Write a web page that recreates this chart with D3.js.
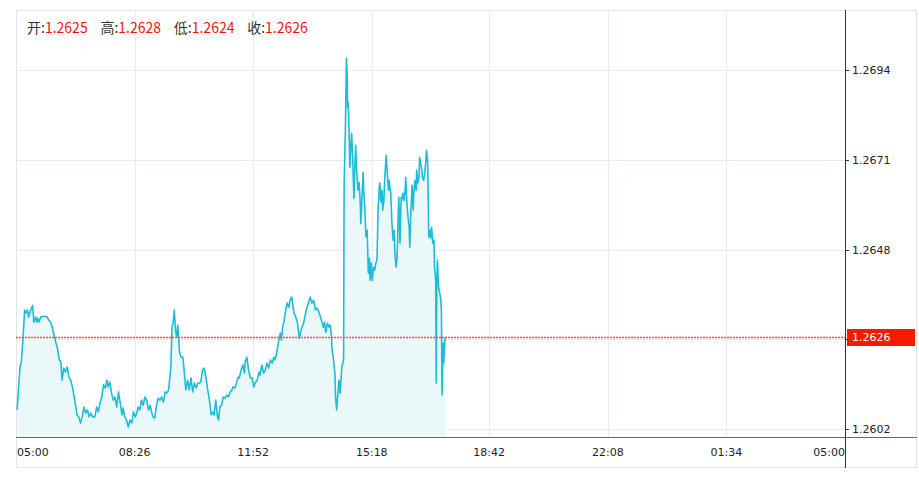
<!DOCTYPE html>
<html><head><meta charset="utf-8">
<script src="https://cdn.jsdelivr.net/npm/d3@7/dist/d3.min.js"></script>
<style>html,body{margin:0;padding:0;background:#fff;overflow:hidden}</style>
</head><body><svg id="c" width="919" height="478"></svg>
<script>
// minutes elapsed since 05:00
const minutesFrom0500 = [2,5,7,9,12,15,17,20,22,24,27,29,31,34,36,38,40,43,49,54,57,60,63,66,69,72,75,78,80,83,86,89,92,95,98,101,104,106,109,112,115,118,121,124,127,130,133,137,140,143,146,149,152,155,158,160,163,166,169,172,175,178,181,184,186,189,192,195,198,201,204,207,210,212,215,218,221,224,227,230,233,236,238,241,244,247,250,253,256,259,262,265,269,271,273,275,277,279,281,284,287,290,292,295,298,301,304,307,310,313,316,318,321,324,327,330,333,336,339,342,344,347,350,352,354,357,360,363,366,369,372,375,377,380,383,386,388,391,394,397,398,401,404,407,410,413,416,419,422,424,427,430,433,436,439,442,445,448,450,453,456,459,461,463,466,468,471,474,476,479,481,483,486,489,492,494,497,500,503,505,508,511,514,517,520,523,526,529,532,534,536,538,541,544,546,548,549,551,554,555,557,559,561,563,566,569,570,572,574,575,576,577,578,580,581,583,585,587,588,590,592,594,596,598,599,601,603,604,606,608,610,612,614,615,617,619,621,623,625,627,629,631,632,634,636,637,639,641,643,645,647,648,651,653,655,657,658,660,662,664,665,667,669,670,672,674,676,677,679,681,683,684,686,688,690,691,693,695,696,698,700,701,703,705,706,708,710,712,713,715,717,719,720,722,724,726,727,729,730,731,732,734,736,738,739,740,742,743,745,746];
const prices = [1.26069,1.26138,1.26179,1.26189,1.26248,1.26325,1.26317,1.26325,1.26307,1.26317,
1.2633,1.26337,1.26294,1.26307,1.26294,1.26304,1.26294,1.26307,1.26309,1.26307,
1.26299,1.26294,1.26281,1.26261,1.26243,1.26227,1.26197,1.26192,1.26145,1.26176,
1.26166,1.26179,1.26153,1.26145,1.26128,1.26102,1.26076,1.26056,1.26051,1.26035,
1.26051,1.26076,1.26061,1.26069,1.26051,1.26061,1.26051,1.26051,1.26076,1.26064,
1.26087,1.26102,1.26133,1.26125,1.26145,1.26128,1.2614,1.26112,1.26094,1.26102,
1.26076,1.26115,1.26087,1.26056,1.26074,1.26051,1.26043,1.26025,1.26043,1.26035,
1.26064,1.26051,1.26061,1.26076,1.26069,1.26094,1.26081,1.26102,1.26094,1.26069,
1.26081,1.26061,1.26051,1.26048,1.26081,1.26099,1.26094,1.26102,1.26089,1.26115,
1.26112,1.2612,1.26179,1.26281,1.26294,1.26325,1.26274,1.26256,1.26286,1.26217,
1.26204,1.26204,1.26171,1.2612,1.26145,1.2612,1.26151,1.26115,1.26138,1.26125,
1.26138,1.26138,1.2614,1.26171,1.26176,1.26151,1.2612,1.26094,1.26056,1.26064,
1.26056,1.26094,1.26051,1.26043,1.26076,1.26081,1.26102,1.26099,1.26107,1.26102,
1.26115,1.2612,1.26128,1.26125,1.26138,1.26153,1.26151,1.26171,1.26184,1.26163,
1.26192,1.26204,1.26171,1.26151,1.26151,1.26128,1.2614,1.26145,1.26166,1.26158,
1.26184,1.26163,1.26171,1.26189,1.26176,1.26197,1.26189,1.26204,1.26197,1.26217,
1.26243,1.26266,1.26248,1.26279,1.26299,1.2632,1.26343,1.26332,1.2635,1.26358,
1.26337,1.26317,1.26307,1.26291,1.26253,1.26266,1.26281,1.26294,1.26317,1.2633,
1.26343,1.26358,1.26343,1.2635,1.26325,1.2633,1.2632,1.26307,1.26291,1.26281,
1.26294,1.26268,1.26291,1.26281,1.26286,1.26256,1.26222,1.26204,1.26163,1.26102,
1.26069,1.26112,1.26145,1.26112,1.26179,1.26197,1.2665,1.26778,1.2697,1.26939,
1.26844,1.26857,1.26819,1.26691,1.26727,1.26778,1.26709,1.26611,1.26665,1.26747,
1.26675,1.26632,1.26652,1.26599,1.26547,1.26614,1.26678,1.26632,1.26581,1.26512,
1.26529,1.26419,1.26458,1.26401,1.26445,1.26401,1.26435,1.26427,1.26445,1.26453,
1.26581,1.2664,1.2665,1.26601,1.26632,1.26581,1.26606,1.26675,1.26721,1.26675,
1.26632,1.26657,1.26624,1.26547,1.26504,1.26529,1.26478,1.26435,1.2646,1.26573,
1.26614,1.26496,1.26614,1.26606,1.26624,1.26606,1.26632,1.26665,1.26599,1.26563,
1.26537,1.26486,1.26581,1.26645,1.26581,1.26624,1.26657,1.26632,1.26683,1.2665,
1.26665,1.26716,1.26701,1.26683,1.26665,1.26657,1.26675,1.26709,1.26734,1.26709,
1.26512,1.26529,1.26509,1.26537,1.26496,1.26504,1.26435,1.26401,1.26138,1.26401,
1.26453,1.26384,1.26368,1.2635,1.26317,1.26107,1.2624,1.26189,1.26248,1.26256];
const xTickMinutes = [0,206,412,618,822,1028,1234,1440];
const xTickLabels = ["05:00","08:26","11:52","15:18","18:42","22:08","01:34","05:00"];
const yTickValues = [1.2694,1.2671,1.2648,1.2625,1.2602];
const ohlcNames = ["开","高","低","收"];
const ohlcValues = ["1.2625","1.2628","1.2624","1.2626"];

const data = d3.zip(minutesFrom0500, prices).map(([m,p]) => ({m, p}));
const last = data[data.length-1];

const L = 16, R = 845, T = 10, B = 437, FR = 917, FB = 468;
const svg = d3.select("#c");

const x = d3.scaleLinear().domain([0, 1440]).range([L, R]);
const y = d3.scaleLinear().domain([1.2602, 1.2694]).range([429, 70]);

// frame
svg.append("rect").attr("x", L+0.5).attr("y", T+0.5).attr("width", FR-L-1).attr("height", FB-T-1)
  .attr("fill","none").attr("stroke","#e4e4e4");

// grid
const grid = svg.append("g").attr("stroke","#e6edf1").attr("stroke-width",1);
grid.selectAll(".hg").data(yTickValues).join("line")
  .attr("x1", L).attr("x2", R)
  .attr("y1", d => Math.round(y(d))+0.5).attr("y2", d => Math.round(y(d))+0.5);
grid.selectAll(".vg").data(xTickMinutes.slice(1,-1)).join("line")
  .attr("y1", T).attr("y2", B)
  .attr("x1", d => Math.round(x(d))+0.5).attr("x2", d => Math.round(x(d))+0.5);

// area + line
svg.append("path").datum(data)
  .attr("fill","#eaf8fa")
  .attr("d", d3.area().x(d => x(d.m)).y0(B).y1(d => y(d.p)));
svg.append("path").datum(data)
  .attr("fill","none").attr("stroke","#1dbcd8").attr("stroke-width",1.6).attr("stroke-linejoin","round")
  .attr("d", d3.line().x(d => x(d.m)).y(d => y(d.p)));

// last price dotted line
const ly = Math.round(y(last.p))+0.5;
svg.append("line").attr("x1", L).attr("x2", R).attr("y1", ly).attr("y2", ly)
  .attr("stroke","#ff4a4a").attr("stroke-width",1.5).attr("stroke-dasharray","2,1");

// axes lines
svg.append("line").attr("x1", L).attr("x2", FR).attr("y1", B+0.5).attr("y2", B+0.5).attr("stroke","#666");
svg.append("line").attr("x1", R+0.5).attr("x2", R+0.5).attr("y1", T).attr("y2", FB).attr("stroke","#333");

// y ticks (label hidden where the last-price tag covers it)
const yax = svg.append("g").attr("font-family","DejaVu Sans, sans-serif").attr("font-size","11px").attr("fill","#222");
yTickValues.forEach(v => {
  const yy = Math.round(y(v))+0.5;
  yax.append("line").attr("x1", R).attr("x2", R+4).attr("y1", yy).attr("y2", yy).attr("stroke","#333");
  if (Math.abs(yy - ly) > 12)
    yax.append("text").attr("x", R+7).attr("y", yy).attr("dy","0.35em").text(d3.format(".4f")(v));
});

// last price tag
svg.append("rect").attr("x", R+2).attr("y", ly-8.5).attr("width", 68).attr("height", 17).attr("fill","#f51b00");
svg.append("text").attr("x", R+7).attr("y", ly).attr("dy","0.35em")
  .attr("font-family","DejaVu Sans, sans-serif").attr("font-size","11px").attr("fill","#fff")
  .text(d3.format(".4f")(last.p));

// x labels
const xax = svg.append("g").attr("font-family","DejaVu Sans, sans-serif").attr("font-size","11px").attr("fill","#222");
xTickMinutes.forEach((m,i) => {
  const anchor = i === 0 ? "start" : (i === xTickMinutes.length-1 ? "end" : "middle");
  xax.append("text").attr("x", x(m) + (i===0 ? 1 : 0)).attr("y", 456).attr("text-anchor", anchor).text(xTickLabels[i]);
});

// header OHLC
const hdr = svg.append("g").attr("font-family","'Noto Sans CJK SC', sans-serif").attr("font-size","14px");
ohlcNames.forEach((n,i) => {
  const t = hdr.append("text").attr("x", 27 + i*73.4).attr("y", 33);
  t.append("tspan").attr("fill","#333").text(n + ":");
  t.append("tspan").attr("fill","#f0140a").text(ohlcValues[i]);
});
</script></body></html>
